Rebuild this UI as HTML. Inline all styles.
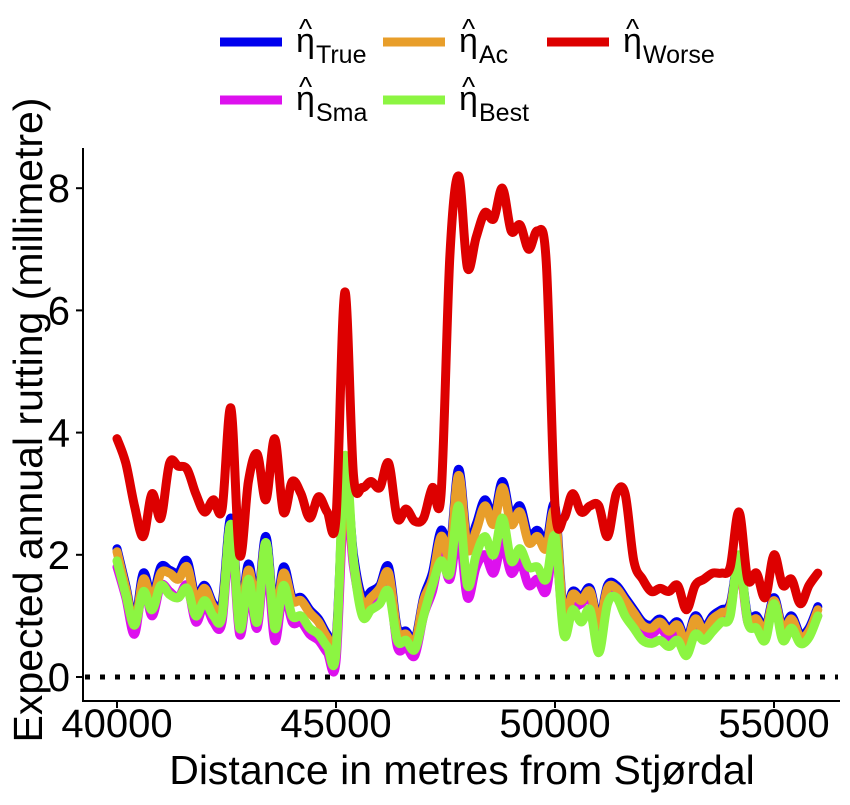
<!DOCTYPE html>
<html><head><meta charset="utf-8"><style>
body{margin:0;background:#fff}
svg{font-family:"Liberation Sans",Arial,sans-serif}
</style></head><body>
<svg id="chart" width="850" height="800" viewBox="0 0 850 800">
<g id="legend"></g>
<g id="plot"></g>
<g id="axes"></g>
</svg>
<script>
const distances = [];
for (let d = 40000; d <= 56000; d += 200) distances.push(d);
const worse = [3.9,3.5,2.8,2.3,3.0,2.6,3.5,3.45,3.4,3.0,2.7,2.9,2.75,4.4,2.0,3.2,3.65,2.9,3.9,2.7,3.2,3.0,2.6,2.95,2.7,2.6,6.3,3.3,3.1,3.2,3.1,3.5,2.6,2.75,2.55,2.6,3.1,3.0,6.9,8.2,6.7,7.2,7.6,7.5,8.0,7.3,7.4,7.0,7.3,6.8,2.8,2.6,3.0,2.7,2.8,2.8,2.3,3.0,3.0,1.9,1.6,1.4,1.45,1.4,1.5,1.1,1.5,1.6,1.7,1.7,1.8,2.7,1.6,1.7,1.3,2.0,1.5,1.6,1.2,1.5,1.7];
const trueEta = [2.1,1.5,0.9,1.7,1.3,1.8,1.75,1.7,1.9,1.3,1.5,1.2,1.2,2.6,1.0,1.85,1.2,2.3,1.0,1.8,1.3,1.3,1.1,0.95,0.7,0.6,3.3,2.0,1.3,1.4,1.5,1.8,0.8,0.75,0.6,1.3,1.7,2.4,2.1,3.4,2.2,2.5,2.9,2.6,3.2,2.6,2.8,2.3,2.4,2.2,2.8,1.0,1.4,1.3,1.45,0.9,1.5,1.5,1.3,1.1,0.9,0.85,0.95,0.8,0.9,0.6,1.0,0.8,1.0,1.1,1.2,1.9,1.0,1.0,0.8,1.3,0.8,1.0,0.7,0.8,1.15];
const acEta = [2.05,1.45,0.85,1.6,1.25,1.7,1.7,1.6,1.8,1.25,1.45,1.15,1.1,2.5,0.95,1.75,1.15,2.2,0.95,1.7,1.25,1.25,1.05,0.9,0.65,0.55,3.2,1.9,1.2,1.3,1.45,1.7,0.75,0.7,0.55,1.25,1.6,2.3,2.0,3.3,2.1,2.4,2.8,2.5,3.1,2.5,2.7,2.2,2.3,2.1,2.7,0.95,1.35,1.25,1.4,0.85,1.45,1.45,1.25,1.05,0.85,0.8,0.9,0.75,0.85,0.55,0.95,0.75,0.95,1.05,1.15,1.85,0.95,0.95,0.75,1.25,0.75,0.95,0.65,0.75,1.1];
const smaEta = [1.8,1.3,0.7,1.5,1.0,1.5,1.4,1.3,1.5,0.9,1.2,0.9,0.9,2.4,0.7,1.5,0.8,2.0,0.6,1.4,0.9,0.9,0.7,0.6,0.4,0.25,3.0,1.8,1.1,1.2,1.3,1.6,0.5,0.5,0.35,1.0,1.4,2.0,1.6,2.4,1.3,1.8,2.0,1.7,2.2,1.7,1.9,1.5,1.6,1.4,2.2,0.8,1.1,1.2,1.3,0.7,1.3,1.4,1.2,1.0,0.8,0.7,0.8,0.65,0.75,0.4,0.85,0.65,0.85,0.95,1.1,1.85,0.9,0.9,0.7,1.2,0.7,0.9,0.6,0.7,1.0];
const bestEta = [1.9,1.35,0.85,1.4,1.1,1.5,1.35,1.3,1.45,1.0,1.25,1.0,1.0,2.5,0.8,1.6,0.9,2.2,0.8,1.5,1.0,1.0,0.8,0.7,0.5,0.4,3.6,1.9,1.0,1.1,1.2,1.4,0.6,0.6,0.45,1.0,1.5,1.9,1.7,2.8,1.5,2.0,2.3,2.0,2.6,1.9,2.1,1.8,1.8,1.6,2.3,0.7,1.1,0.9,1.1,0.4,1.2,1.3,1.0,0.8,0.6,0.55,0.6,0.5,0.6,0.35,0.7,0.6,0.75,0.9,1.0,2.0,0.9,0.8,0.6,1.2,0.6,0.8,0.55,0.65,1.0];
const xTicks = [40000,45000,50000,55000];
const yTicks = [0,2,4,6,8];

const NS = "http://www.w3.org/2000/svg";
const X = d => 117 + (d - 40000) * (657 / 15000);
const Y = v => 677 - v * 61.1;
function mk(tag, attrs, parent, text) {
  const el = document.createElementNS(NS, tag);
  for (const k in attrs) el.setAttribute(k, attrs[k]);
  if (text !== undefined) el.textContent = text;
  parent.appendChild(el);
  return el;
}
function smoothPath(p) {
  let d = 'M' + p[0][0].toFixed(1) + ',' + p[0][1].toFixed(1);
  for (let i = 0; i < p.length - 1; i++) {
    const p0 = p[Math.max(0, i - 1)], p1 = p[i], p2 = p[i + 1], p3 = p[Math.min(p.length - 1, i + 2)];
    const c1x = p1[0] + (p2[0] - p0[0]) / 6, c1y = p1[1] + (p2[1] - p0[1]) / 6;
    const c2x = p2[0] - (p3[0] - p1[0]) / 6, c2y = p2[1] - (p3[1] - p1[1]) / 6;
    d += ' C' + c1x.toFixed(1) + ',' + c1y.toFixed(1) + ' ' + c2x.toFixed(1) + ',' + c2y.toFixed(1) + ' ' + p2[0].toFixed(1) + ',' + p2[1].toFixed(1);
  }
  return d;
}
const plot = document.getElementById('plot');
const axes = document.getElementById('axes');
const legend = document.getElementById('legend');

const zl = mk('line', {x1: 85, x2: 838, y1: Y(0), y2: Y(0), stroke: '#000', 'stroke-width': 5, 'stroke-dasharray': '5 10'}, plot);



const series = [
  {vals: trueEta, color: '#0000ee', name: 'series-true'},
  {vals: smaEta, color: '#dd11ee', name: 'series-sma'},
  {vals: acEta, color: '#e89e2a', name: 'series-ac'},
  {vals: bestEta, color: '#8cf542', name: 'series-best'},
  {vals: worse, color: '#dd0000', name: 'series-worse'}
];
series.forEach(s => {
  const pts = s.vals.map((v, i) => [X(distances[i]), Y(v)]);
  const pl = mk('path', {d: smoothPath(pts), fill: 'none', stroke: s.color, 'stroke-width': 9, 'stroke-linejoin': 'round', 'stroke-linecap': 'round'}, plot);
  
  
});

const ya = mk('line', {x1: 83, x2: 83, y1: 148, y2: 702, stroke: '#000', 'stroke-width': 2}, axes);


const xa = mk('line', {x1: 82, x2: 840, y1: 701, y2: 701, stroke: '#000', 'stroke-width': 2}, axes);


yTicks.forEach(t => {
  mk('line', {x1: 76, x2: 83, y1: Y(t), y2: Y(t), stroke: '#000', 'stroke-width': 2}, axes);
  const tl = mk('text', {x: 70, y: Y(t) + 14, 'text-anchor': 'end', 'font-size': 40}, axes, String(t));
  
  
});
xTicks.forEach(t => {
  mk('line', {x1: X(t), x2: X(t), y1: 701, y2: 708, stroke: '#000', 'stroke-width': 2}, axes);
  const tl = mk('text', {x: X(t), y: 737, 'text-anchor': 'middle', 'font-size': 40}, axes, String(t));
  
  
});
const xt = mk('text', {x: 462, y: 784, 'text-anchor': 'middle', 'font-size': 41}, axes, 'Distance in metres from Stjørdal');


const yt = mk('text', {x: 0, y: 0, 'text-anchor': 'middle', 'font-size': 41, transform: 'translate(42,420) rotate(-90)'}, axes, 'Expected annual rutting (millimetre)');



const legendItems = [
  {x: 220, y: 42, color: '#0000ee', sub: 'True', name: 'legend-entry-true'},
  {x: 383, y: 42, color: '#e89e2a', sub: 'Ac', name: 'legend-entry-ac'},
  {x: 547, y: 42, color: '#dd0000', sub: 'Worse', name: 'legend-entry-worse'},
  {x: 220, y: 100, color: '#dd11ee', sub: 'Sma', name: 'legend-entry-sma'},
  {x: 383, y: 100, color: '#8cf542', sub: 'Best', name: 'legend-entry-best'}
];
legendItems.forEach(it => {
  const g = mk('g', {}, legend);
  
  
  mk('line', {x1: it.x, x2: it.x + 62, y1: it.y, y2: it.y, stroke: it.color, 'stroke-width': 9}, g);
  mk('text', {x: it.x + 76, y: it.y + 10, 'font-size': 34}, g, 'η');
  mk('text', {x: it.x + 79, y: it.y - 4, 'font-size': 28}, g, '^');
  mk('text', {x: it.x + 96, y: it.y + 21, 'font-size': 25}, g, it.sub);
});
</script>
</body></html>
